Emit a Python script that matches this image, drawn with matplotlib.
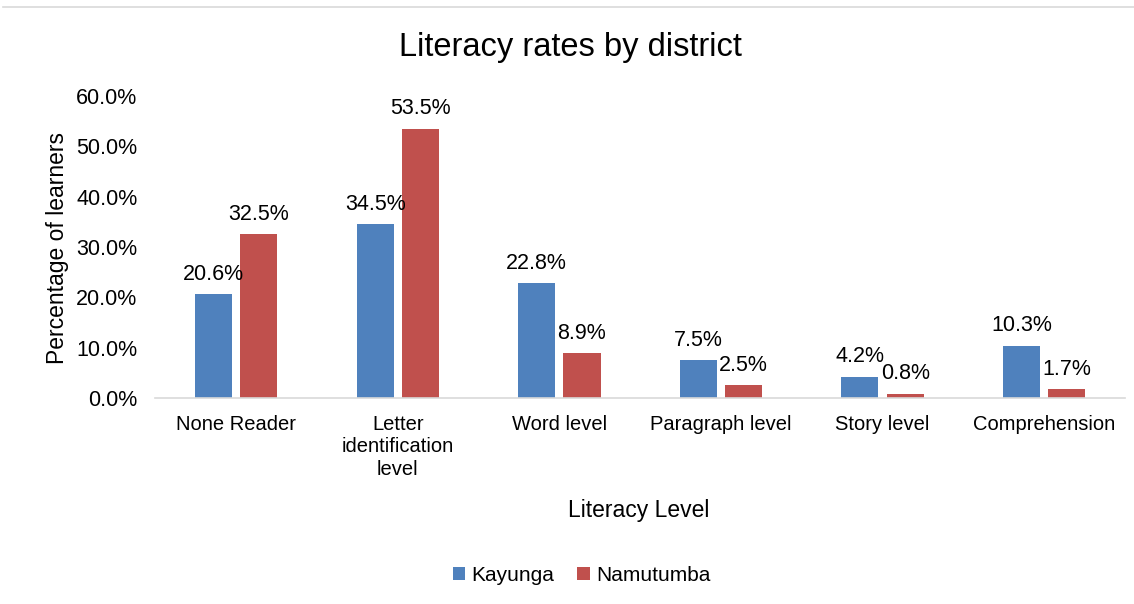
import numpy as np
import matplotlib
matplotlib.use("Agg")
import matplotlib.pyplot as plt
from matplotlib.lines import Line2D
from matplotlib.ticker import PercentFormatter

categories = ["None Reader", "Letter\nidentification\nlevel", "Word level",
              "Paragraph level", "Story level", "Comprehension"]
kayunga = [20.6, 34.5, 22.8, 7.5, 4.2, 10.3]
namutumba = [32.5, 53.5, 8.9, 2.5, 0.8, 1.7]
series_names = ["Kayunga", "Namutumba"]
colors = ["#4F81BD", "#C0504D"]

plt.rcParams['font.family'] = ['Liberation Sans', 'DejaVu Sans']

fig = plt.figure(figsize=(11.34, 6.04), dpi=100)
ax = fig.add_axes([0.137, 0.341, 0.855, 0.5])

x = np.arange(len(categories))
width = 0.23
offset = 0.14
for vals, name, col, sign in zip([kayunga, namutumba], series_names, colors, [-1, 1]):
    bars = ax.bar(x + sign * offset, vals, width, color=col, label=name)
    for b, v in zip(bars, vals):
        ax.annotate(f"{v:.1f}%", (b.get_x() + b.get_width() / 2, v),
                    xytext=(0, 7), textcoords="offset points",
                    ha="center", va="bottom", fontsize=15.5)

ax.set_xlim(-0.5, len(categories) - 0.5)
ax.set_ylim(0, 60)
ax.set_yticks(np.arange(0, 61, 10))
ax.yaxis.set_major_formatter(PercentFormatter(decimals=1))
ax.set_xticks(x)
ax.set_xticklabels(categories, fontsize=14.5, va="top", linespacing=1.25)
ax.tick_params(axis="y", labelsize=15.5, length=0, pad=13)
ax.tick_params(axis="x", length=0, pad=12)
for s in ["top", "right", "left"]:
    ax.spines[s].set_visible(False)
ax.spines["bottom"].set_color("#D9D9D9")
ax.spines["bottom"].set_linewidth(1.2)

ax.set_ylabel("Percentage of learners", fontsize=16.5)
ax.yaxis.set_label_coords(-0.089, 0.497)
fig.text(0.563, 0.154, "Literacy Level", ha="center", va="center", fontsize=16.5)
fig.text(0.503, 0.922, "Literacy rates by district", ha="center", va="center", fontsize=23.5)

fig.legend(loc="center", bbox_to_anchor=(0.513, 0.047), ncol=2, frameon=False,
           fontsize=15, handlelength=0.6, handleheight=0.6, handletextpad=0.3,
           columnspacing=1.1)

fig.add_artist(Line2D([0.003, 1.0], [0.988, 0.988], color="#D9D9D9", lw=1.2))

fig.savefig("out.png", dpi=100)
